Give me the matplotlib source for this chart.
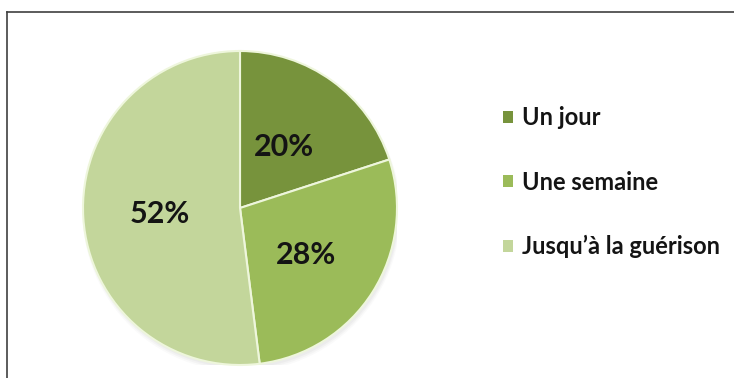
import matplotlib
matplotlib.use("Agg")
import matplotlib.pyplot as plt
from matplotlib.lines import Line2D
from matplotlib.patches import Circle

labels = ["Un jour", "Une semaine", "Jusqu\u2019à la guérison"]
shares = [20, 28, 52]
colors = ["#77933C", "#9BBB59", "#C3D69B"]

plt.rcParams['font.family'] = ['Lato', 'DejaVu Sans']

W, H = 734, 378
fig = plt.figure(figsize=(W / 100, H / 100), dpi=100)
fig.patch.set_facecolor("white")

# frame lines along the top and left edges
fig.add_artist(Line2D([7 / W, 1], [1 - 12 / H, 1 - 12 / H], color="#404040", lw=1.2))
fig.add_artist(Line2D([7 / W, 7 / W], [0, 1 - 12 / H], color="#404040", lw=1.2))

# pie centred at (240, 208) px, radius 157 px
cx, cy, r = 240, 208, 157
ax = fig.add_axes([(cx - r) / W, (H - cy - r) / H, 2 * r / W, 2 * r / H])

wedges, texts = ax.pie(shares, colors=colors, startangle=90, counterclock=False, radius=1.0,
                       wedgeprops=dict(edgecolor="#EEF6DC", linewidth=1.5))

# soft shadow under the pie
for i, a in enumerate([0.05, 0.05, 0.04]):
    ax.add_patch(Circle((0.01, -0.02 - 0.005 * i), 1.0 + 0.006 * i, color="#808080",
                        alpha=a, lw=0, zorder=0))

ax.set_xlim(-1.0, 1.0)
ax.set_ylim(-1.0, 1.0)
ax.set_aspect("equal")
ax.axis("off")

# percentage labels
label_pos = [(0.28, 0.39), (0.42, -0.30), (-0.51, -0.04)]
for (x, y), s in zip(label_pos, shares):
    ax.text(x, y, f"{s}%", ha="center", va="center", fontsize=22, fontweight="bold", color="#141414")

leg = fig.legend(wedges, labels, loc="upper left", bbox_to_anchor=(494 / W, 1 - 97 / H),
                 frameon=False, fontsize=17, handlelength=0.4, handleheight=0.4,
                 handletextpad=0.38, labelspacing=1.75, borderaxespad=0)
for t in leg.get_texts():
    t.set_fontweight("bold")
    t.set_color("#141414")
for h in leg.legend_handles:
    h.set_edgecolor("none")

fig.savefig("out.png", dpi=100)
